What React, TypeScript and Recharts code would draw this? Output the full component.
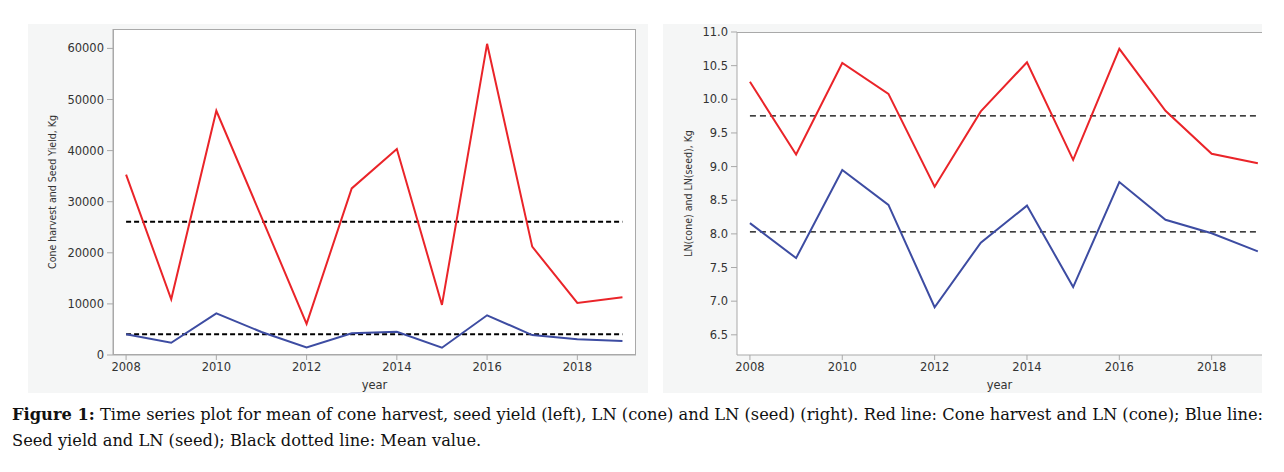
import { LineChart, Line, XAxis, YAxis } from "recharts";

const years = [2008, 2009, 2010, 2011, 2012, 2013, 2014, 2015, 2016, 2017, 2018, 2019];

// left panel, kg
const coneHarvest = [35300, 10900, 47800, 27000, 6100, 32600, 40300, 9800, 60900, 21200, 10200, 11300];
const seedYield = [4050, 2400, 8150, 4500, 1500, 4250, 4560, 1430, 7770, 3900, 3070, 2740];
const coneMean = 26100;
const seedMean = 4050;

// right panel, natural log
const lnCone = [10.26, 9.18, 10.54, 10.08, 8.7, 9.82, 10.55, 9.1, 10.75, 9.83, 9.19, 9.05];
const lnSeed = [8.16, 7.64, 8.95, 8.43, 6.91, 7.87, 8.42, 7.21, 8.77, 8.21, 8.01, 7.74];
const lnConeMean = 9.755;
const lnSeedMean = 8.03;

const yearTicks = [2008, 2010, 2012, 2014, 2016, 2018];
const kgTicks = [0, 10000, 20000, 30000, 40000, 50000, 60000];
const lnTicks = [6.5, 7.0, 7.5, 8.0, 8.5, 9.0, 9.5, 10.0, 10.5, 11.0];

const RED = "#ea2429";
const BLUE = "#3d4ca2";
const AXIS = "#a9a9a9";
const PANEL_BG = "#f5f6f6";
const TICK_FONT = { fontSize: 11.5, fill: "#333", fontFamily: "'DejaVu Sans', sans-serif" };
const LABEL_FONT = { fontSize: 10.5, fill: "#333", fontFamily: "'DejaVu Sans Condensed', 'DejaVu Sans', sans-serif" };

const leftData = years.map((year, i) => ({
  year,
  cone: coneHarvest[i],
  seed: seedYield[i],
  coneMean,
  seedMean,
}));

const rightData = years.map((year, i) => ({
  year,
  cone: lnCone[i],
  seed: lnSeed[i],
  coneMean: lnConeMean,
  seedMean: lnSeedMean,
}));

export default function App() {
  return (
    <div style={{ position: "absolute", left: 0, top: 0, width: 1284, height: 472, background: "#fff" }}>
      {/* left panel */}
      <div style={{ position: "absolute", left: 28, top: 24, width: 620, height: 369, background: PANEL_BG }} />
      <div
        style={{
          position: "absolute",
          left: 113,
          top: 29,
          width: 523,
          height: 326,
          background: "#fff",
          border: `1px solid ${AXIS}`,
          boxSizing: "border-box",
        }}
      />
      <div style={{ position: "absolute", left: 0, top: 0 }}>
        <LineChart width={650} height={400} data={leftData} margin={{ top: 29, right: 14, left: 33, bottom: 15 }}>
          <XAxis
            dataKey="year"
            type="number"
            domain={[2007.71, 2019.3]}
            ticks={yearTicks}
            allowDataOverflow
            height={30}
            tick={TICK_FONT}
            tickSize={5}
            tickMargin={3}
            stroke={AXIS}
            label={{ value: "year", position: "insideBottom", offset: -4, style: TICK_FONT }}
          />
          <YAxis
            type="number"
            domain={[0, 63800]}
            ticks={kgTicks}
            allowDataOverflow
            width={80}
            tick={TICK_FONT}
            tickSize={6}
            tickMargin={3}
            stroke={AXIS}
            label={{
              value: "Cone harvest and Seed Yield, Kg",
              angle: -90,
              position: "insideLeft",
              offset: 19,
              style: { ...LABEL_FONT, textAnchor: "middle" },
            }}
          />
          <Line dataKey="coneMean" stroke="#000" strokeWidth={2} strokeDasharray="5 3" dot={false} isAnimationActive={false} />
          <Line dataKey="seedMean" stroke="#000" strokeWidth={2} strokeDasharray="5 3" dot={false} isAnimationActive={false} />
          <Line dataKey="cone" stroke={RED} strokeWidth={2} dot={false} strokeLinejoin="miter" isAnimationActive={false} />
          <Line dataKey="seed" stroke={BLUE} strokeWidth={2} dot={false} strokeLinejoin="miter" isAnimationActive={false} />
        </LineChart>
      </div>

      {/* right panel */}
      <div style={{ position: "absolute", left: 663, top: 24, width: 599, height: 369, background: PANEL_BG }} />
      <div
        style={{
          position: "absolute",
          left: 737,
          top: 32,
          width: 525,
          height: 323,
          background: "#fff",
          borderTop: `1px solid ${AXIS}`,
          boxSizing: "border-box",
        }}
      />
      <div style={{ position: "absolute", left: 650, top: 0 }}>
        <LineChart width={620} height={400} data={rightData} margin={{ top: 32, right: 8, left: 7, bottom: 15 }}>
          <XAxis
            dataKey="year"
            type="number"
            domain={[2007.72, 2019.09]}
            ticks={yearTicks}
            allowDataOverflow
            height={30}
            tick={TICK_FONT}
            tickSize={5}
            tickMargin={3}
            stroke={AXIS}
            label={{ value: "year", position: "insideBottom", offset: -4, style: TICK_FONT }}
          />
          <YAxis
            type="number"
            domain={[6.2, 11.0]}
            ticks={lnTicks}
            allowDataOverflow
            width={80}
            tick={TICK_FONT}
            tickFormatter={(v: number) => v.toFixed(1)}
            tickSize={6}
            tickMargin={3}
            stroke={AXIS}
            label={{
              value: "LN(cone) and LN(seed), Kg",
              angle: -90,
              position: "insideLeft",
              offset: 31,
              style: { ...LABEL_FONT, textAnchor: "middle" },
            }}
          />
          <Line dataKey="coneMean" stroke="#000" strokeWidth={1.2} strokeDasharray="6 4" dot={false} isAnimationActive={false} />
          <Line dataKey="seedMean" stroke="#000" strokeWidth={1.2} strokeDasharray="6 4" dot={false} isAnimationActive={false} />
          <Line dataKey="cone" stroke={RED} strokeWidth={2} dot={false} strokeLinejoin="miter" isAnimationActive={false} />
          <Line dataKey="seed" stroke={BLUE} strokeWidth={2} dot={false} strokeLinejoin="miter" isAnimationActive={false} />
        </LineChart>
      </div>

      {/* caption */}
      <div
        style={{
          position: "absolute",
          left: 12,
          top: 402,
          whiteSpace: "nowrap",
          fontFamily: "'DejaVu Serif', serif",
          fontSize: 16.25,
          lineHeight: "26px",
          color: "#111",
        }}
      >
        <b>Figure 1:</b> Time series plot for mean of cone harvest, seed yield (left), LN (cone) and LN (seed) (right). Red
        line: Cone harvest and LN (cone); Blue line:
        <br />
        Seed yield and LN (seed); Black dotted line: Mean value.
      </div>
    </div>
  );
}
